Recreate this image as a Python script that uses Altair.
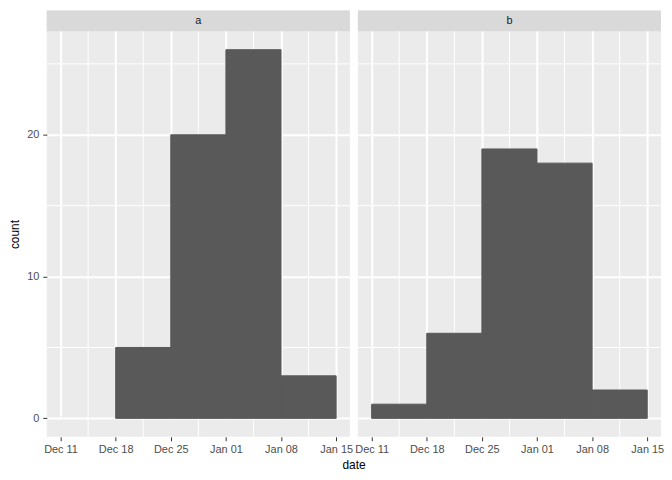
import altair as alt
import pandas as pd

# ---- data ----
facet_labels = ["a", "b"]
a_bin_starts = ["2016-12-18", "2016-12-25", "2017-01-01", "2017-01-08"]
a_counts = [5, 20, 26, 3]
b_bin_starts = ["2016-12-11", "2016-12-18", "2016-12-25", "2017-01-01", "2017-01-08"]
b_counts = [1, 6, 19, 18, 2]
bin_days = 7

x_breaks = ["2016-12-11", "2016-12-18", "2016-12-25", "2017-01-01", "2017-01-08", "2017-01-15"]
x_minor_breaks = ["2016-12-14T12:00", "2016-12-21T12:00", "2016-12-28T12:00",
                  "2017-01-04T12:00", "2017-01-11T12:00"]
x_limits = ["2016-12-09T06:00", "2017-01-16T18:00"]
y_breaks = [0, 10, 20]
y_minor_breaks = [5, 15, 25]
y_limits = [-1.3, 27.3]


def ms(s):
    return int(pd.Timestamp(s, tz="UTC").value // 10**6)


PANEL_W = 305
STRIP_H = 21
PLOT_H = 408
TOTAL_H = STRIP_H + PLOT_H
FONT = "Liberation Sans"

BAR = "#595959"
PANEL_BG = "#EBEBEB"
STRIP_BG = "#D9D9D9"


def panel(label, starts, counts, show_y):
    bars_df = pd.DataFrame({
        "start": [ms(s) for s in starts],
        "end": [ms(s) + bin_days * 86400000 for s in starts],
        "count": counts,
    })
    xminor_df = pd.DataFrame({"x": [ms(s) for s in x_minor_breaks]})
    yminor_df = pd.DataFrame({"y": y_minor_breaks})
    lab_df = pd.DataFrame({"label": [label]})

    xscale = alt.Scale(type="utc", domain=[ms(v) for v in x_limits], nice=False)
    yscale = alt.Scale(domain=y_limits, nice=False, zero=False, range=[TOTAL_H, STRIP_H])

    xaxis = alt.Axis(
        values=[ms(v) for v in x_breaks], format="%b %d", title=None,
        grid=True, gridColor="white", gridWidth=2, domain=False,
        ticks=True, tickSize=4, tickColor="#333333", tickWidth=1,
        labelPadding=3, labelFontSize=11, labelColor="#4D4D4D", labelFont=FONT,
        labelFlush=False, labelOverlap=False,
    )
    if show_y:
        yaxis = alt.Axis(
            values=y_breaks, title="count", grid=True, gridColor="white", gridWidth=2,
            domain=False, ticks=True, tickSize=4, tickColor="#333333", tickWidth=1,
            labelPadding=4, labelFontSize=11, labelColor="#4D4D4D", labelFont=FONT,
            titleFont=FONT, titleFontSize=12, titleFontWeight="normal",
            titleColor="black", titlePadding=5,
        )
    else:
        yaxis = alt.Axis(
            values=y_breaks, title=None, grid=True, gridColor="white", gridWidth=2,
            domain=False, ticks=False, labels=False,
        )

    xminor = alt.Chart(xminor_df).mark_rule(color="white", strokeWidth=1).encode(
        x=alt.X("x:T", scale=xscale, axis=xaxis)
    )
    yminor = alt.Chart(yminor_df).mark_rule(color="white", strokeWidth=1).encode(
        y=alt.Y("y:Q", scale=yscale, axis=yaxis)
    )
    bars = alt.Chart(bars_df).mark_rect(
        color=BAR, stroke=BAR, strokeWidth=1
    ).encode(
        x=alt.X("start:T", scale=xscale, axis=xaxis),
        x2="end:T",
        y=alt.Y("count:Q", scale=yscale, axis=yaxis),
        y2=alt.datum(0),
    )
    strip = alt.Chart(lab_df).mark_rect(color=STRIP_BG).encode(
        x=alt.value(0), x2=alt.value(PANEL_W), y=alt.value(0), y2=alt.value(STRIP_H)
    )
    text = alt.Chart(lab_df).mark_text(
        font=FONT, fontSize=11, color="#1A1A1A", baseline="middle", align="center"
    ).encode(x=alt.value(PANEL_W / 2), y=alt.value(STRIP_H / 2 + 0.5), text="label:N")

    return alt.layer(xminor, yminor, bars, strip, text).properties(
        width=PANEL_W, height=TOTAL_H
    )


pa = panel(facet_labels[0], a_bin_starts, a_counts, True)
pb = panel(facet_labels[1], b_bin_starts, b_counts, False)

chart = alt.hconcat(pa, pb, spacing=8).resolve_scale(
    x="independent", y="independent"
).properties(
    bounds="flush",
    padding={"left": 0, "top": 0, "right": 0, "bottom": 0},
    title=alt.TitleParams(
        "date", orient="bottom", anchor="middle", font=FONT, fontSize=12,
        fontWeight="normal", color="black", offset=5, dx=18,
    ),
).configure_view(fill=PANEL_BG, strokeWidth=0)

chart.save("out.html", embed_options={"renderer": "svg", "actions": False})
